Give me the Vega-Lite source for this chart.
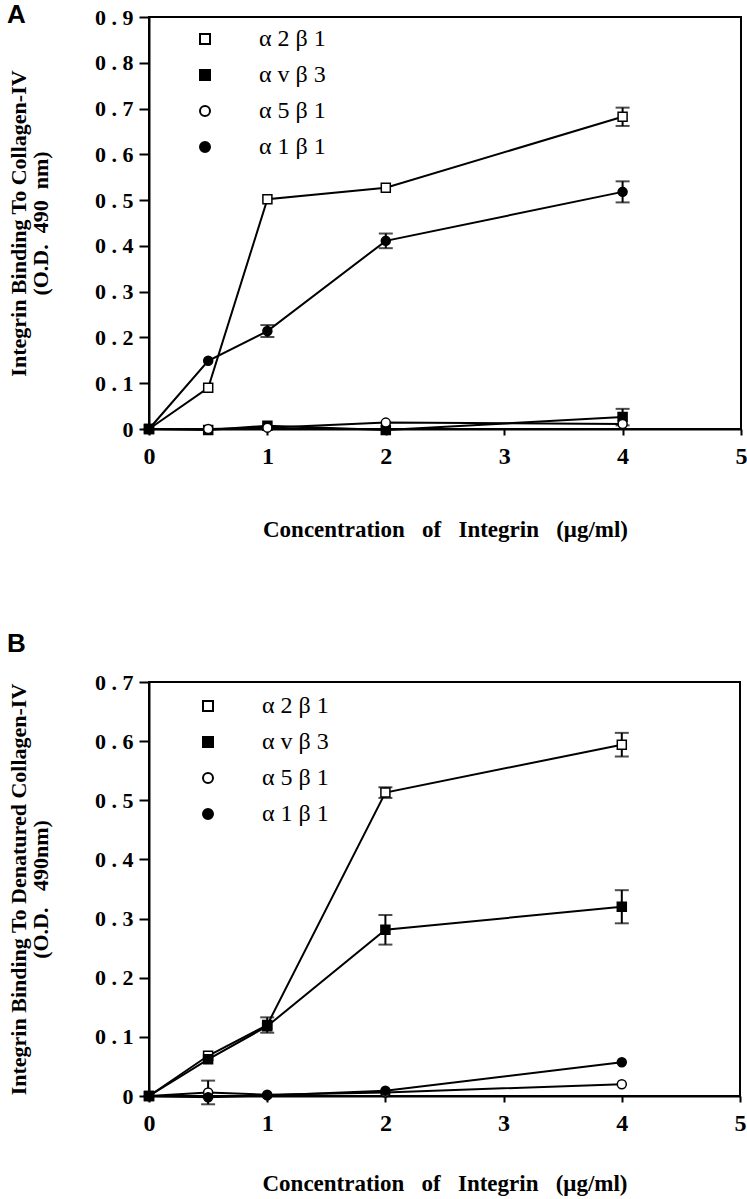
{
  "$schema": "https://vega.github.io/schema/vega-lite/v6.json",
  "padding": {"left": 6, "top": 0, "right": 0, "bottom": 2},
  "background": "white",
  "spacing": 88,
  "datasets": {
    "A": [
      {"series": "α2β1", "conc": 0, "od": 0},
      {"series": "α2β1", "conc": 0.5, "od": 0.09},
      {"series": "α2β1", "conc": 1, "od": 0.502},
      {"series": "α2β1", "conc": 2, "od": 0.527},
      {"series": "α2β1", "conc": 4, "od": 0.682, "err": 0.02},
      {"series": "αvβ3", "conc": 0, "od": 0},
      {"series": "αvβ3", "conc": 0.5, "od": -0.002},
      {"series": "αvβ3", "conc": 1, "od": 0.007},
      {"series": "αvβ3", "conc": 2, "od": -0.002},
      {"series": "αvβ3", "conc": 4, "od": 0.026, "err": 0.018},
      {"series": "α5β1", "conc": 0, "od": 0},
      {"series": "α5β1", "conc": 0.5, "od": 0},
      {"series": "α5β1", "conc": 1, "od": 0.003},
      {"series": "α5β1", "conc": 2, "od": 0.014},
      {"series": "α5β1", "conc": 4, "od": 0.011},
      {"series": "α1β1", "conc": 0, "od": 0},
      {"series": "α1β1", "conc": 0.5, "od": 0.149},
      {"series": "α1β1", "conc": 1, "od": 0.214, "err": 0.013},
      {"series": "α1β1", "conc": 2, "od": 0.411, "err": 0.016},
      {"series": "α1β1", "conc": 4, "od": 0.518, "err": 0.023}
    ],
    "B": [
      {"series": "α2β1", "conc": 0, "od": 0},
      {"series": "α2β1", "conc": 0.5, "od": 0.068},
      {"series": "α2β1", "conc": 1, "od": 0.12, "err": 0.013},
      {"series": "α2β1", "conc": 2, "od": 0.513, "err": 0.009},
      {"series": "α2β1", "conc": 4, "od": 0.594, "err": 0.02},
      {"series": "αvβ3", "conc": 0, "od": 0},
      {"series": "αvβ3", "conc": 0.5, "od": 0.062},
      {"series": "αvβ3", "conc": 1, "od": 0.118},
      {"series": "αvβ3", "conc": 2, "od": 0.281, "err": 0.025},
      {"series": "αvβ3", "conc": 4, "od": 0.32, "err": 0.028},
      {"series": "α5β1", "conc": 0, "od": 0},
      {"series": "α5β1", "conc": 0.5, "od": 0.006, "err": 0.02},
      {"series": "α5β1", "conc": 1, "od": 0.002},
      {"series": "α5β1", "conc": 2, "od": 0.006},
      {"series": "α5β1", "conc": 4, "od": 0.02},
      {"series": "α1β1", "conc": 0, "od": 0},
      {"series": "α1β1", "conc": 0.5, "od": -0.002},
      {"series": "α1β1", "conc": 1, "od": 0.001},
      {"series": "α1β1", "conc": 2, "od": 0.009},
      {"series": "α1β1", "conc": 4, "od": 0.057}
    ]
  },
  "vconcat": [
    {
      "width": 592,
      "height": 412,
      "title": {"text": "A", "anchor": "start", "frame": "group", "dx": -142, "offset": -21.5, "font": "Liberation Sans", "fontSize": 26, "fontWeight": "bold", "color": "black"},
      "data": {"name": "A"},
      "encoding": {
        "x": {"field": "conc", "type": "quantitative", "scale": {"domain": [0, 5], "nice": false},
              "axis": {"values": [0, 1, 2, 3, 4, 5], "title": "Concentration \u00a0\u00a0of \u00a0\u00a0Integrin \u00a0\u00a0(μg/ml)", "titlePadding": 50}},
        "y": {"field": "od", "type": "quantitative", "scale": {"domain": [0, 0.9], "nice": false},
              "axis": {"values": [0, 0.1, 0.2, 0.3, 0.4, 0.5, 0.6, 0.7, 0.8, 0.9], "title": ["Integrin Binding To Collagen-IV", "\u00a0\u00a0\u00a0\u00a0\u00a0(O.D. \u00a0490 \u00a0nm)"]}}
      },
      "layer": [
        {"mark": {"type": "line", "color": "black", "strokeWidth": 2, "clip": false},
         "encoding": {"detail": {"field": "series"}}},
        {"transform": [{"filter": "datum.err > 0"}],
         "mark": {"type": "errorbar", "color": "black", "thickness": 2, "ticks": {"size": 14, "thickness": 2}},
         "encoding": {"yError": {"field": "err"}}},
        {"mark": {"type": "point", "filled": true, "stroke": "black", "strokeWidth": 1.5, "size": 81, "opacity": 1},
         "encoding": {
           "shape": {"field": "series", "type": "nominal", "scale": {"domain": ["α2β1", "αvβ3", "α5β1", "α1β1"], "range": ["square", "square", "circle", "circle"]},
                     "legend": {"title": null, "orient": "none", "legendX": 44, "legendY": 10,
                                "labelExpr": "join(split(datum.label, ''), ' ')",
                                "encode": {"symbols": {"update": {
                                  "fill": {"signal": "(datum.value == 'αvβ3' || datum.value == 'α1β1') ? 'black' : 'white'"},
                                  "stroke": {"value": "black"}, "strokeWidth": {"value": 2}, "opacity": {"value": 1}}}}}},
           "fill": {"field": "series", "type": "nominal", "scale": {"domain": ["α2β1", "αvβ3", "α5β1", "α1β1"], "range": ["white", "black", "white", "black"]},
                    "legend": {"title": null, "orient": "none", "legendX": 44, "legendY": 10,
                                "labelExpr": "join(split(datum.label, ''), ' ')",
                                "encode": {"symbols": {"update": {
                                  "fill": {"signal": "(datum.value == 'αvβ3' || datum.value == 'α1β1') ? 'black' : 'white'"},
                                  "stroke": {"value": "black"}, "strokeWidth": {"value": 2}, "opacity": {"value": 1}}}}}}
         }}
      ]
    },
    {
      "width": 591,
      "height": 414,
      "title": {"text": "B", "anchor": "start", "frame": "group", "dx": -142, "offset": 14, "font": "Liberation Sans", "fontSize": 26, "fontWeight": "bold", "color": "black"},
      "data": {"name": "B"},
      "encoding": {
        "x": {"field": "conc", "type": "quantitative", "scale": {"domain": [0, 5], "nice": false},
              "axis": {"values": [0, 1, 2, 3, 4, 5], "title": "Concentration \u00a0\u00a0of \u00a0\u00a0Integrin \u00a0\u00a0(μg/ml)", "titlePadding": 37}},
        "y": {"field": "od", "type": "quantitative", "scale": {"domain": [0, 0.7], "nice": false},
              "axis": {"values": [0, 0.1, 0.2, 0.3, 0.4, 0.5, 0.6, 0.7], "title": ["Integrin Binding To Denatured Collagen-IV", "\u00a0\u00a0\u00a0\u00a0\u00a0\u00a0\u00a0\u00a0\u00a0\u00a0\u00a0\u00a0\u00a0\u00a0(O.D. \u00a0\u00a0490nm)"]}}
      },
      "layer": [
        {"mark": {"type": "line", "color": "black", "strokeWidth": 2, "clip": false},
         "encoding": {"detail": {"field": "series"}}},
        {"transform": [{"filter": "datum.err > 0"}],
         "mark": {"type": "errorbar", "color": "black", "thickness": 2, "ticks": {"size": 14, "thickness": 2}},
         "encoding": {"yError": {"field": "err"}}},
        {"mark": {"type": "point", "filled": true, "stroke": "black", "strokeWidth": 1.5, "size": 81, "opacity": 1},
         "encoding": {
           "shape": {"field": "series", "type": "nominal", "scale": {"domain": ["α2β1", "αvβ3", "α5β1", "α1β1"], "range": ["square", "square", "circle", "circle"]},
                     "legend": {"title": null, "orient": "none", "legendX": 47, "legendY": 12,
                                "labelExpr": "join(split(datum.label, ''), ' ')",
                                "encode": {"symbols": {"update": {
                                  "fill": {"signal": "(datum.value == 'αvβ3' || datum.value == 'α1β1') ? 'black' : 'white'"},
                                  "stroke": {"value": "black"}, "strokeWidth": {"value": 2}, "opacity": {"value": 1}}}}}},
           "fill": {"field": "series", "type": "nominal", "scale": {"domain": ["α2β1", "αvβ3", "α5β1", "α1β1"], "range": ["white", "black", "white", "black"]},
                    "legend": {"title": null, "orient": "none", "legendX": 47, "legendY": 12,
                                "labelExpr": "join(split(datum.label, ''), ' ')",
                                "encode": {"symbols": {"update": {
                                  "fill": {"signal": "(datum.value == 'αvβ3' || datum.value == 'α1β1') ? 'black' : 'white'"},
                                  "stroke": {"value": "black"}, "strokeWidth": {"value": 2}, "opacity": {"value": 1}}}}}}
         }}
      ]
    }
  ],
  "resolve": {"scale": {"shape": "independent", "fill": "independent", "x": "independent", "y": "independent"},
              "legend": {"shape": "independent", "fill": "independent"}},
  "config": {
    "font": "Liberation Serif",
    "view": {"stroke": "black", "strokeWidth": 2},
    "axis": {
      "grid": false,
      "domainColor": "black", "domainWidth": 2,
      "tickColor": "black", "tickWidth": 2,
      "labelFont": "Liberation Serif", "labelFontWeight": "bold", "labelColor": "black",
      "titleFont": "Liberation Serif", "titleColor": "black"
    },
    "axisX": {"tickSize": 6, "labelFontSize": 24, "labelPadding": 9, "labelFlush": false,
              "titleFontSize": 23, "titleFontWeight": "bold"},
    "axisY": {"tickSize": 10, "labelFontSize": 22, "labelPadding": 6,
              "labelExpr": "datum.value == 0 ? '0' : replace(format(datum.value, '.1f'), '.', ' . ')",
              "titleFontSize": 22, "titleFontWeight": "bold", "titleLineHeight": 22, "titlePadding": 42},
    "legend": {
      "symbolSize": 100,
      "symbolStrokeWidth": 2,
      "symbolStrokeColor": "black",
      "labelFont": "Liberation Serif", "labelFontSize": 24, "labelColor": "black",
      "labelOffset": 42,
      "rowPadding": 12,
      "padding": 0,
      "symbolOpacity": 1
    }
  },
  "encoding": {}
}
